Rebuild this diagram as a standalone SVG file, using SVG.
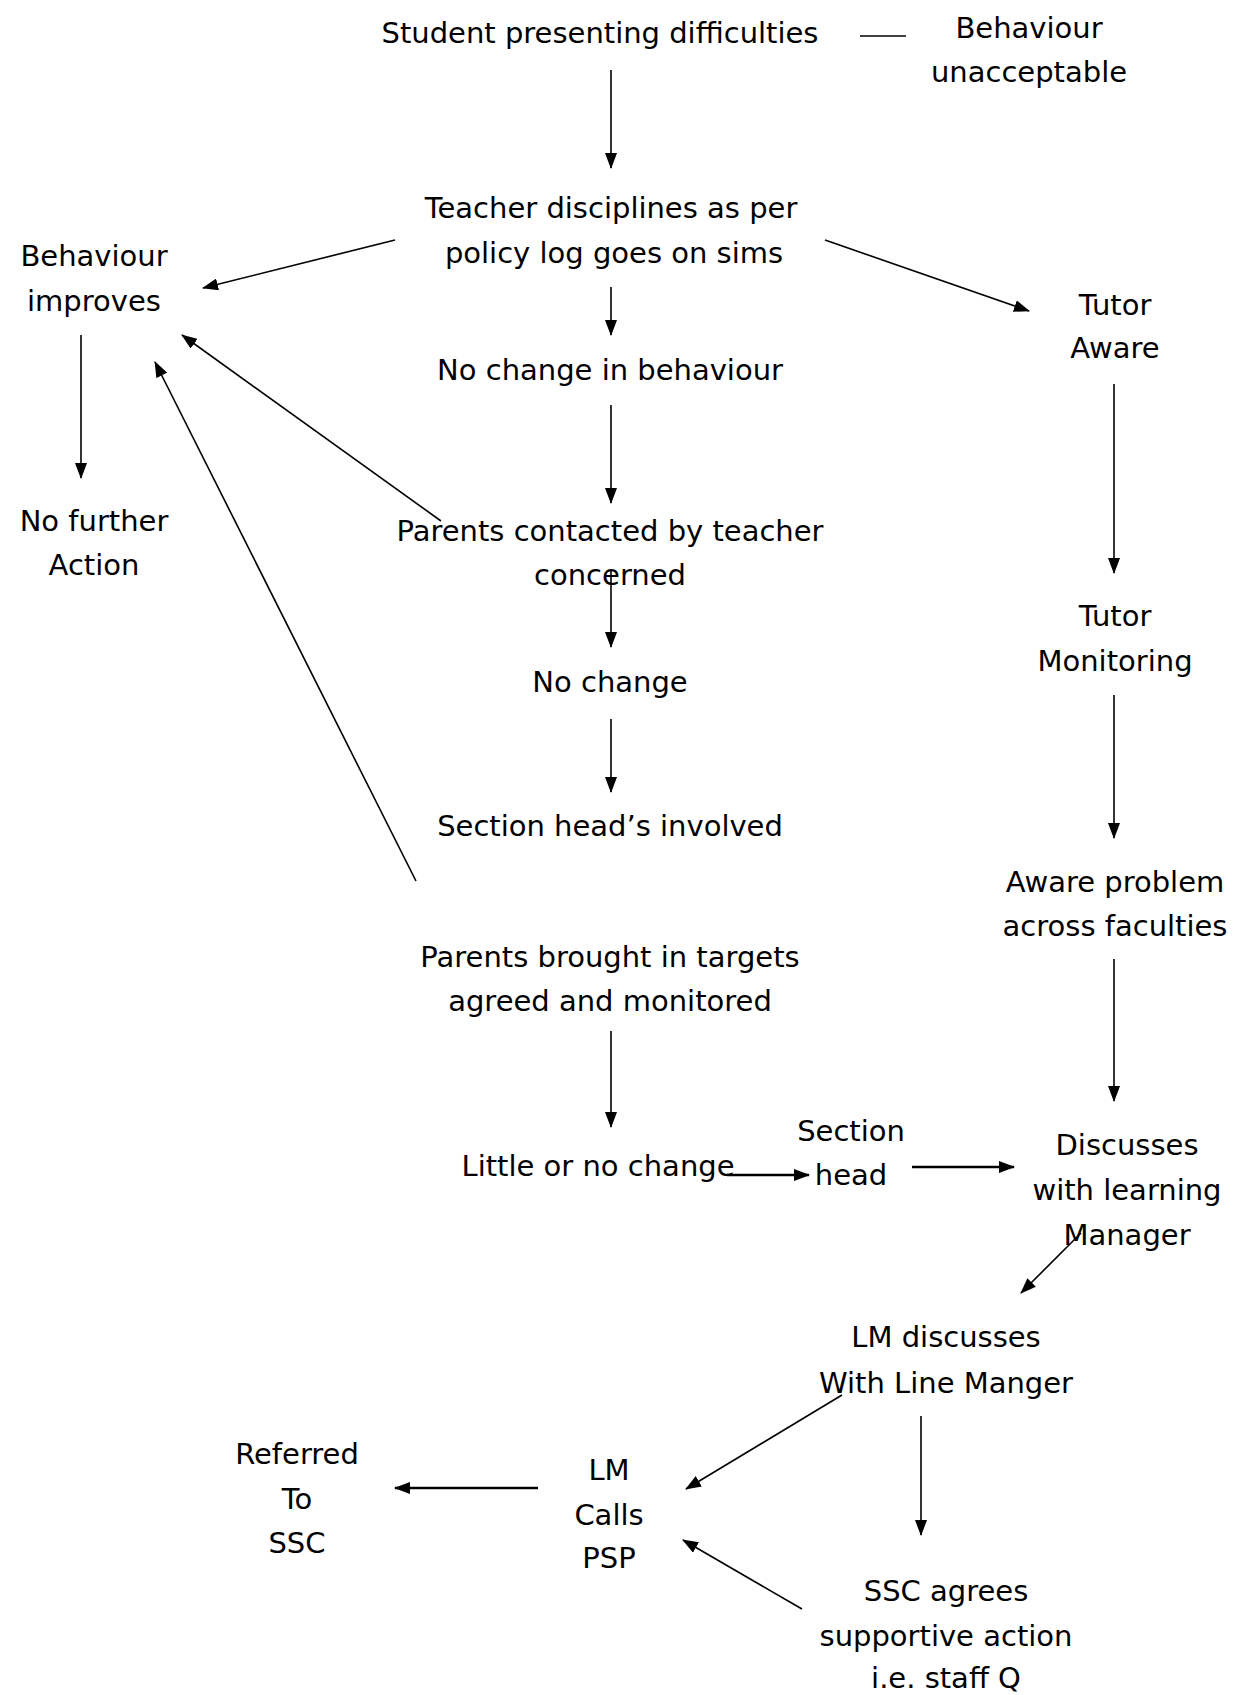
<svg xmlns="http://www.w3.org/2000/svg" width="1237" height="1695" viewBox="0 0 1237 1695">
<style>
text{font-family:"DejaVu Sans","Liberation Sans",sans-serif;font-size:29px;fill:#000;text-anchor:middle}
.c{stroke:#000;stroke-width:1.6;fill:none;marker-end:url(#ah)}
.t{stroke:#000;stroke-width:2.4;fill:none;marker-end:url(#ah)}
.p{stroke:#000;stroke-width:1.6;fill:none}
</style>
<defs>
<marker id="ah" markerUnits="userSpaceOnUse" markerWidth="16" markerHeight="12" refX="15" refY="6" orient="auto">
<path d="M0,0 L16,6 L0,12 z" fill="#000"/>
</marker>
</defs>
<rect width="1237" height="1695" fill="#fff"/>
<g id="connectors">
<line class="p" x1="860" y1="36" x2="906" y2="36"/>
<line class="c" x1="611" y1="70" x2="611" y2="168"/>
<line class="c" x1="395" y1="240" x2="203" y2="288"/>
<line class="c" x1="825" y1="240" x2="1029" y2="311"/>
<line class="c" x1="611" y1="287" x2="611" y2="335"/>
<line class="c" x1="611" y1="405" x2="611" y2="503"/>
<line class="c" x1="81" y1="335" x2="81" y2="478"/>
<line class="c" x1="441" y1="521" x2="182" y2="335"/>
<line class="c" x1="416" y1="881" x2="155" y2="362"/>
<line class="c" x1="611" y1="570" x2="611" y2="647"/>
<line class="c" x1="611" y1="719" x2="611" y2="792"/>
<line class="c" x1="611" y1="1031" x2="611" y2="1127"/>
<line class="t" x1="727" y1="1175" x2="809" y2="1175"/>
<line class="t" x1="912" y1="1167" x2="1014" y2="1167"/>
<line class="c" x1="1114" y1="384" x2="1114" y2="573"/>
<line class="c" x1="1114" y1="695" x2="1114" y2="838"/>
<line class="c" x1="1114" y1="959" x2="1114" y2="1101"/>
<line class="c" x1="1081" y1="1233" x2="1021" y2="1293"/>
<line class="c" x1="842" y1="1395" x2="686" y2="1489"/>
<line class="c" x1="921" y1="1416" x2="921" y2="1535"/>
<line class="t" x1="538" y1="1488" x2="395" y2="1488"/>
<line class="c" x1="802" y1="1609" x2="683" y2="1540"/>
</g>
<g id="n-student"><text x="600" y="43">Student presenting difficulties</text></g>
<g id="n-unacceptable"><text x="1029" y="38">Behaviour</text><text x="1029" y="82">unacceptable</text></g>
<g id="n-teacher"><text x="611" y="218">Teacher disciplines as per</text><text x="614" y="263">policy log goes on sims</text></g>
<g id="n-improves"><text x="94" y="266">Behaviour</text><text x="94" y="311">improves</text></g>
<g id="n-tutor-aware"><text x="1115" y="315">Tutor</text><text x="1115" y="358">Aware</text></g>
<g id="n-nochange-beh"><text x="610" y="380">No change in behaviour</text></g>
<g id="n-no-further"><text x="94" y="531">No further</text><text x="94" y="575">Action</text></g>
<g id="n-parents-contacted"><text x="610" y="541">Parents contacted by teacher</text><text x="610" y="585">concerned</text></g>
<g id="n-nochange"><text x="610" y="692">No change</text></g>
<g id="n-section-heads"><text x="610" y="836">Section head’s involved</text></g>
<g id="n-tutor-monitoring"><text x="1115" y="626">Tutor</text><text x="1115" y="671">Monitoring</text></g>
<g id="n-aware-problem"><text x="1115" y="892">Aware problem</text><text x="1115" y="936">across faculties</text></g>
<g id="n-parents-brought"><text x="610" y="967">Parents brought in targets</text><text x="610" y="1011">agreed and monitored</text></g>
<g id="n-little"><text x="598" y="1176">Little or no change</text></g>
<g id="n-section-head"><text x="851" y="1141">Section</text><text x="851" y="1185">head</text></g>
<g id="n-discusses"><text x="1127" y="1155">Discusses</text><text x="1127" y="1200">with learning</text><text x="1127" y="1245">Manager</text></g>
<g id="n-lm-discusses"><text x="946" y="1347">LM discusses</text><text x="946" y="1393">With Line Manger</text></g>
<g id="n-lm-calls"><text x="609" y="1480">LM</text><text x="609" y="1525">Calls</text><text x="609" y="1568">PSP</text></g>
<g id="n-referred"><text x="297" y="1464">Referred</text><text x="297" y="1509">To</text><text x="297" y="1553">SSC</text></g>
<g id="n-ssc-agrees"><text x="946" y="1601">SSC agrees</text><text x="946" y="1646">supportive action</text><text x="946" y="1688">i.e. staff Q</text></g>
</svg>
